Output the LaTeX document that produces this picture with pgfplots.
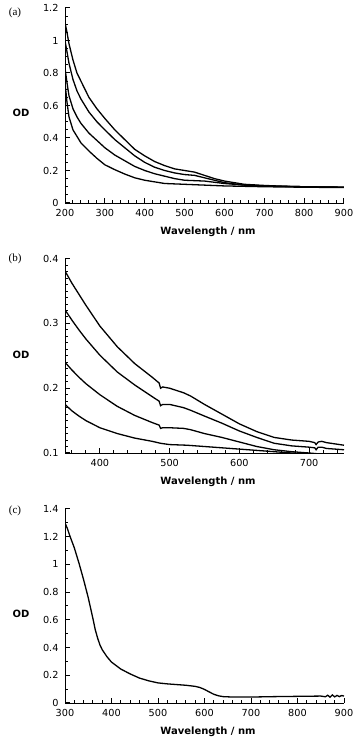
\documentclass[border=0pt]{standalone}
\usepackage{fontspec}
\setmainfont{DejaVu Sans}
\newfontfamily\panelfont{Liberation Serif}
\usepackage{pgfplots}
\pgfplotsset{compat=1.18}

\pgfplotsset{
  odpanel/.style={
    scale only axis,
    width=279pt,
    anchor=south west,
    axis lines*=left,
    axis line style={line width=0.9pt},
    tick align=inside,
    major tick length=4.5pt,
    minor tick length=3pt,
    tick style={draw=black, line width=1pt},
    enlargelimits=false,
    tick label style={font=\fontsize{9.7}{11}\selectfont},
    xticklabel style={yshift=-2.5pt},
    yticklabel style={xshift=-3pt},
    /pgf/number format/assume math mode=true,
  },
  odline/.style={black, line width=1.3pt, mark=none},
}

\begin{document}
\begin{tikzpicture}
\useasboundingbox (0pt,0pt) rectangle (354pt,741pt);

% ---- (a)
\begin{axis}[odpanel, at={(65pt,538pt)}, height=195pt,
  xmin=200, xmax=900, ymin=0, ymax=1.2,
  xtick={200,300,...,900}, ytick={0,0.2,...,1.2},
  minor xtick={220,240,...,880}, minor ytick={0.05,0.1,...,1.15}]
\addplot[odline] coordinates {
 (200,1.11)(205,1.05)(210,0.98)(220,0.88)(230,0.80)(240,0.75)(260,0.65)(280,0.58)
 (300,0.52)(325,0.45)(350,0.39)(375,0.33)(400,0.29)(425,0.255)(450,0.23)(475,0.21)
 (500,0.20)(525,0.19)(550,0.17)(575,0.15)(600,0.135)(650,0.115)(700,0.108)(750,0.103)
 (800,0.10)(850,0.098)(900,0.097)};
\addplot[odline] coordinates {
 (200,1.00)(205,0.93)(210,0.86)(220,0.76)(230,0.69)(240,0.64)(260,0.56)(280,0.50)
 (300,0.45)(325,0.39)(350,0.34)(375,0.29)(400,0.25)(425,0.22)(450,0.20)(475,0.185)
 (500,0.175)(525,0.17)(550,0.155)(575,0.14)(600,0.125)(650,0.11)(700,0.105)
 (800,0.10)(900,0.097)};
\addplot[odline] coordinates {
 (200,0.83)(205,0.74)(210,0.66)(220,0.58)(230,0.53)(240,0.49)(260,0.43)(280,0.385)
 (300,0.34)(325,0.295)(350,0.26)(375,0.225)(400,0.20)(425,0.18)(450,0.165)(475,0.15)
 (500,0.14)(550,0.135)(600,0.12)(650,0.11)(700,0.105)(800,0.10)(900,0.097)};
\addplot[odline] coordinates {
 (200,0.74)(205,0.62)(210,0.53)(220,0.45)(230,0.41)(240,0.37)(260,0.32)(280,0.275)
 (300,0.235)(325,0.205)(350,0.178)(375,0.155)(400,0.14)(425,0.13)(450,0.12)
 (500,0.115)(550,0.11)(600,0.105)(700,0.10)(800,0.097)(900,0.095)};
\end{axis}

% ---- (b)
\begin{axis}[odpanel, at={(65pt,288pt)}, height=194.3pt,
  xmin=350, xmax=750, ymin=0.1, ymax=0.4,
  xtick={400,500,600,700}, ytick={0.1,0.2,0.3,0.4},
  minor xtick={360,380,...,740}, minor ytick={0.11,0.12,...,0.395}]
\addplot[odline] coordinates {
 (350,0.381)(360,0.362)(370,0.345)(380,0.328)(400,0.296)(425,0.264)(450,0.238)
 (475,0.217)(485,0.208)(487,0.200)(490,0.202)(500,0.200)(520,0.193)(530,0.188)
 (550,0.175)(575,0.16)(600,0.145)(625,0.133)(650,0.124)(675,0.12)(700,0.118)
 (708,0.116)(710,0.113)(713,0.117)(718,0.118)(725,0.116)(750,0.112)};
\addplot[odline] coordinates {
 (350,0.321)(360,0.305)(370,0.29)(380,0.276)(400,0.251)(425,0.225)(450,0.205)
 (475,0.187)(485,0.180)(487,0.173)(490,0.175)(500,0.175)(520,0.170)(530,0.166)
 (550,0.157)(575,0.146)(600,0.134)(625,0.124)(650,0.115)(675,0.111)(700,0.109)
 (708,0.108)(710,0.105)(713,0.109)(718,0.109)(725,0.107)(750,0.105)};
\addplot[odline] coordinates {
 (350,0.240)(360,0.228)(370,0.217)(380,0.207)(400,0.19)(425,0.172)(450,0.158)
 (475,0.147)(485,0.143)(487,0.138)(490,0.139)(500,0.139)(520,0.138)(530,0.136)
 (550,0.13)(575,0.124)(600,0.117)(625,0.11)(650,0.105)(675,0.102)(700,0.1)
 (710,0.099)(750,0.097)};
\addplot[odline] coordinates {
 (350,0.175)(360,0.165)(370,0.157)(380,0.150)(400,0.139)(425,0.13)(450,0.123)
 (475,0.118)(487,0.115)(500,0.113)(525,0.112)(550,0.11)(575,0.108)(600,0.106)
 (625,0.104)(650,0.102)(675,0.10)(700,0.099)(750,0.097)};
\end{axis}

% ---- (c)
\begin{axis}[odpanel, at={(65pt,38pt)}, height=194pt,
  xmin=300, xmax=900, ymin=0, ymax=1.4,
  xtick={300,400,...,900}, ytick={0,0.2,...,1.4},
  minor xtick={320,340,...,880}, minor ytick={0.1,0.3,...,1.3}]
\addplot[odline] coordinates {
 (300,1.30)(305,1.26)(310,1.21)(320,1.12)(330,1.01)(340,0.89)(350,0.76)(360,0.61)
 (365,0.53)(370,0.47)(375,0.42)(380,0.385)(390,0.335)(400,0.295)(420,0.245)
 (440,0.21)(460,0.18)(480,0.16)(500,0.145)(520,0.138)(540,0.133)(560,0.128)
 (580,0.12)(590,0.112)(600,0.098)(610,0.08)(620,0.063)(630,0.052)(640,0.046)
 (660,0.043)(700,0.043)(750,0.046)(800,0.048)(850,0.05)(860,0.045)(865,0.056)
 (870,0.042)(875,0.058)(880,0.044)(885,0.055)(890,0.046)(895,0.054)(900,0.05)};
\end{axis}

% ---- labels
\node[font=\panelfont\fontsize{11}{13}\selectfont] at (15pt,728pt) {(a)};
\node[font=\panelfont\fontsize{11}{13}\selectfont] at (15pt,482pt) {(b)};
\node[font=\panelfont\fontsize{11}{13}\selectfont] at (15pt,230pt) {(c)};
\node[font=\bfseries\fontsize{10}{12}\selectfont] at (21pt,628pt) {OD};
\node[font=\bfseries\fontsize{10}{12}\selectfont] at (21pt,386pt) {OD};
\node[font=\bfseries\fontsize{10}{12}\selectfont] at (21pt,127pt) {OD};
\node[font=\bfseries\fontsize{10}{12}\selectfont] at (208pt,509pt) {Wavelength / nm};
\node[font=\bfseries\fontsize{10}{12}\selectfont] at (208pt,259pt) {Wavelength / nm};
\node[font=\bfseries\fontsize{10}{12}\selectfont] at (208pt,9pt) {Wavelength / nm};
\end{tikzpicture}
\end{document}
